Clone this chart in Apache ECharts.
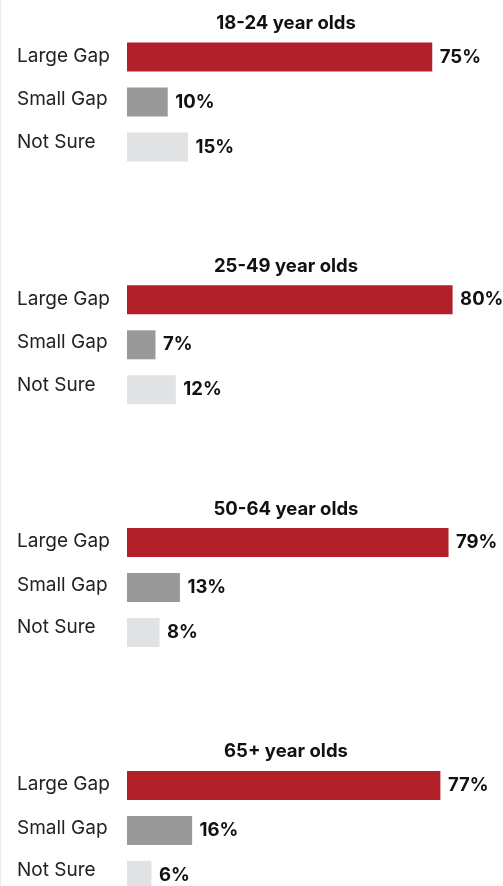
<!DOCTYPE html>
<html>
<head>
<meta charset="utf-8">
<script src="https://cdn.jsdelivr.net/npm/echarts@6/dist/echarts.min.js"></script>
<style>
  html, body { margin: 0; padding: 0; background: #fff; }
  #chart { width: 503px; height: 886px; box-sizing: border-box; border-left: 1px solid #ececec; }
</style>
</head>
<body>
<div id="chart"></div>
<script>
// answers, top to bottom in every panel
var answers = ['Large Gap', 'Small Gap', 'Not Sure'];
var groups = ['18-24 year olds', '25-49 year olds', '50-64 year olds', '65+ year olds'];
var age1824 = [75, 10, 15];
var age2549 = [80, 7, 12];
var age5064 = [79, 13, 8];
var age65 = [77, 16, 6];
var values = [age1824, age2549, age5064, age65];

var colors = ['#b2202a', '#999999', '#e1e2e4'];
var font = 'Inter';

var chart = echarts.init(document.getElementById('chart'));

// answer labels sit a little higher than their bars, more so further down
var labelRich = {};
[2, 5, 10].forEach(function (p, j) {
    labelRich['a' + j] = { fontFamily: font, fontSize: 19, color: '#222', padding: [0, 0, p, 0] };
});

var titles = [], grids = [], xAxes = [], yAxes = [], series = [];
groups.forEach(function (name, i) {
    var top = 34.5 + i * 242.8;
    titles.push({
        text: name,
        left: 280,
        top: top - 25.5,
        textAlign: 'center',
        textStyle: { fontFamily: font, fontSize: 18.5, fontWeight: 'bold', color: '#111' }
    });
    grids.push({ left: 126, top: top, width: 407, height: 135, outerBoundsMode: 'none' });
    xAxes.push({
        gridIndex: i, type: 'value', min: 0, max: 100,
        show: false
    });
    yAxes.push({
        gridIndex: i, type: 'category', data: answers, inverse: true,
        axisLine: { show: false },
        axisTick: { show: false },
        axisLabel: {
            align: 'left', margin: 110,
            formatter: function (v, idx) { return '{a' + idx + '|' + v + '}'; },
            rich: labelRich
        }
    });
    series.push({
        type: 'bar',
        xAxisIndex: i,
        yAxisIndex: i,
        barWidth: 29,
        data: values[i].map(function (v, j) {
            return { value: v, itemStyle: { color: colors[j] } };
        }),
        label: {
            show: true, position: 'right', distance: 7.5,
            formatter: '{c}%',
            fontFamily: font, fontSize: 18.5, fontWeight: 'bold', color: '#111'
        }
    });
});

chart.setOption({
    animation: false,
    title: titles,
    grid: grids,
    xAxis: xAxes,
    yAxis: yAxes,
    series: series
});
</script>
</body>
</html>
